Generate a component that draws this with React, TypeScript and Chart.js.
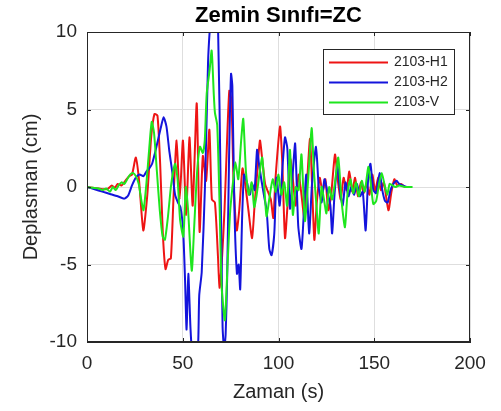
import { useEffect, useRef } from "react";
import { Chart, registerables } from "chart.js";

Chart.register(...registerables);

const titleText = "Zemin Sınıfı=ZC";
const xLabel = "Zaman (s)";
const yLabel = "Deplasman (cm)";
const xTicks = [0, 50, 100, 150, 200];
const yTicks = [-10, -5, 0, 5, 10];
const seriesNames = ["2103-H1", "2103-H2", "2103-V"];
const seriesColors = ["#ee1414", "#1414dc", "#1ee61e"];

// 2103-H1 (red)
const tH1 = [0, 3, 6, 9, 11, 13, 14.5, 16, 18, 20, 22, 23.5, 25.5, 27.2, 29.4, 31.5, 33.5, 35.2, 36.8, 38.2, 39.6, 41, 42.4, 43.8, 45.2, 46.8, 48.4, 50.1, 51.8, 53.5, 55.2, 57.3, 58.8, 60.5, 62.2, 63.9, 65.2, 66.8, 68.4, 69.2, 70.4, 71.8, 73, 74.3, 75.4, 76.6, 78.2, 79.5, 81.2, 82.8, 84.3, 86.2, 87.6, 88.8, 90.3, 91.5, 93, 94.5, 96, 97.3, 98.4, 100.8, 102, 103.4, 104.8, 106.2, 107.5, 109, 110.5, 112, 113.5, 115, 116.5, 118.7, 120, 121.5, 123, 124.5, 126, 127.5, 129.5, 131, 132.5, 134, 135.5, 137, 138.5, 140, 141.5, 143, 144.5, 146, 147.5, 149, 150.5, 152, 153.5, 155, 157.4, 159, 160.5, 162, 164, 166, 168];
const dH1 = [0, -0.05, -0.1, -0.15, -0.1, 0.1, -0.05, 0.2, 0.1, 0.4, 0.7, 0.8, 1.9, 0.4, -2.8, -0.5, 3.2, 4.7, 4.6, 1.5, -3.0, -5.3, -4.7, -4.6, -0.6, 3.0, -0.8, 3.0, -1.8, 3.2, -1.2, 5.4, -2.9, 2.0, 0.4, 3.7, -0.8, -1.0, -4.5, -6.5, -4.8, -1.5, 2.5, 6.2, 5.6, 0.2, -2.8, -1.5, 1.2, 0.0, -1.5, -3.3, -1.0, 0.8, 3.0, 1.8, 0.2, -0.3, -0.8, -2.0, 0.5, 3.9, 1.5, -3.3, -1.0, 1.8, 0.5, -1.2, 0.8, -0.5, -2.0, 0.5, 3.1, -3.4, -1.0, 0.6, -0.3, 0.5, -1.5, -0.5, 2.1, 0.4, -0.8, 0.6, -0.2, 1.0, -0.3, 0.6, -0.6, 0.3, -0.4, 0.2, -0.5, 0.8, -0.3, 0.6, -0.2, 0.3, -1.5, -0.3, 0.5, 0.1, 0.2, 0, 0];

// 2103-H2 (blue)
const tH2 = [0, 4, 8, 12, 16, 19.5, 21.5, 23.5, 25.5, 27.5, 29.5, 31, 32.5, 34, 35.5, 37, 38.5, 40, 41.5, 43, 44.5, 46, 47.5, 48.8, 50.2, 51.2, 52, 52.9, 54, 54.8, 56.5, 58, 58.6, 59.9, 61.6, 63.2, 64.2, 65.5, 67, 68.4, 69.8, 70.8, 71.6, 72.4, 73.2, 74.2, 75.2, 75.9, 77, 78.3, 79.2, 80, 81, 82, 83.5, 85, 86.2, 87.5, 88.8, 89.8, 91, 92.5, 93.8, 95.2, 96.4, 97.8, 99, 100.6, 102.2, 103.4, 104.6, 106, 107.4, 108.7, 110.3, 112, 113.3, 114.5, 116, 117.5, 119.6, 121, 122.5, 124, 125.5, 127.1, 128, 129.3, 130.7, 132.2, 133.5, 135, 136.5, 138, 139.5, 141, 142.5, 144, 145.5, 146.8, 148, 149.5, 151, 152.8, 154.2, 155.6, 157, 158.5, 160, 161.7, 163, 165, 167, 169];
const dH2 = [0, -0.15, -0.3, -0.45, -0.6, -0.75, -0.55, 0.1, 0.6, 0.8, 0.7, 1.0, 1.2, 1.5, 2.2, 3.0, 3.8, 4.5, 3.9, 2.3, 1.0, -0.5, -1.0, -1.3, -2.8, -6, -9.2, -5.6, -9, -10.5, -11, -10.2, -7, -5.5, 0, 8, 10.3, 12, 12, 10.5, 0, -9, -10.5, -9.5, -5.8, 2, 7.3, 6.5, -1.5, -5.6, -5, -6.6, -2, 0.8, 0.3, -0.5, 0.2, -0.2, 2.4, 1.5, 0.5, -0.6, -1.5, -4.0, -4.4, -3.0, 0.6, -1.2, 1.5, 3.2, 2.5, -1.4, 0.8, 2.8, -2.5, -4.0, -1.5, 0.8, -3.0, 0.2, 2.6, 0.0, -1.0, 0.5, -0.3, -1.2, -3.0, -0.4, 1.4, -0.3, -1.2, 0.3, -0.6, 0.0, -0.5, 0.2, -0.6, -0.3, -2.8, 0.5, 1.5, -0.2, -0.4, 0.9, -0.2, -0.9, -1.0, -0.2, 0.2, 0.4, 0.2, 0.1, 0, 0];

// 2103-V (green)
const tV = [0, 3, 6, 8, 10, 12, 13.5, 15, 16.5, 18, 19.5, 21, 22.5, 24, 25.5, 27, 28.3, 29.5, 31, 32.5, 33.8, 35, 36.5, 38, 39.5, 40.7, 42.2, 44, 46, 47.3, 48.6, 50.3, 51.6, 52.8, 54.7, 56, 57.5, 59, 60.5, 61.5, 62.5, 64, 65.1, 66.2, 66.8, 68, 69.2, 70.3, 72, 73.4, 74.8, 76.4, 77.5, 79, 80.5, 81.6, 83, 84.5, 86, 87.3, 88.6, 90, 91.5, 93, 93.8, 95.5, 97, 98.5, 100, 101.5, 103, 104.5, 106, 107.5, 109, 110.5, 112, 113.8, 115.5, 117.3, 118.5, 120, 121, 122.5, 124, 125, 126.5, 128, 129.5, 131.2, 133, 134.7, 136, 137.5, 139, 140.5, 142, 143.5, 145, 146.9, 148.2, 149.5, 151, 152.5, 153.9, 155.3, 156.8, 158, 159.5, 161, 163, 166, 170];
const dV = [0, -0.05, -0.1, -0.2, -0.1, -0.3, 0.0, -0.2, 0.1, 0.3, 0.2, 0.5, 0.8, 0.9, 0.7, 0.2, -0.8, -1.5, 0.2, 2.5, 4.2, 3.5, 1.0, -1.5, -3.2, -3.4, -2.0, 0.2, 1.5, 0.5, -2.1, -3.2, 0.0, -1.5, -5.4, -2.5, 1.0, 2.6, 2.2, 3.0, 6.0, 7.5, 8.8, 6, 4.8, 4.0, -1.0, -6.4, -8.6, -5.0, -1.5, 0.5, 1.6, 0.5, 3.0, 4.4, 1.0, -0.5, 0.3, -1.3, -0.5, 0.8, 1.9, -0.8, -1.9, -0.5, 0.5, -0.3, 0.8, -0.5, 0.3, -1.2, 2.4, -1.8, 0.0, -0.2, 2.1, -2.2, 0.5, 3.8, 1.0, -1.5, -3.0, 0.0, -1.0, -1.7, 0.0, -0.8, 0.3, 1.9, -1.0, -2.6, -0.5, 0.5, -0.4, 0.3, -0.6, 0.4, -0.3, 1.3, 0.2, -1.1, -0.9, 0.2, 0.9, 0.2, -0.5, 0.2, 0.1, 0.0, 0.1, 0, 0];

const FONT = "'Liberation Sans', Arial, Helvetica, sans-serif";
const AXIS_COLOR = "#262626";

const toPoints = (t: number[], v: number[]) => t.map((x, i) => ({ x, y: v[i] }));

const framePlugin = {
  id: "frame",
  afterDatasetsDraw(chart: any) {
    const { ctx, chartArea } = chart;
    const { left, right, top, bottom } = chartArea;
    const xs = chart.scales.x;
    const ys = chart.scales.y;
    ctx.save();
    ctx.strokeStyle = AXIS_COLOR;
    ctx.lineWidth = 1;
    ctx.strokeRect(left + 0.5, top + 0.5, right - left - 1, bottom - top - 1);
    const len = 4;
    ctx.beginPath();
    xTicks.forEach((v) => {
      const px = Math.round(xs.getPixelForValue(v)) + 0.5;
      ctx.moveTo(px, bottom);
      ctx.lineTo(px, bottom - len);
      ctx.moveTo(px, top);
      ctx.lineTo(px, top + len);
    });
    yTicks.forEach((v) => {
      const py = Math.round(ys.getPixelForValue(v)) + 0.5;
      ctx.moveTo(left, py);
      ctx.lineTo(left + len, py);
      ctx.moveTo(right, py);
      ctx.lineTo(right - len, py);
    });
    ctx.stroke();
    ctx.restore();
  },
  afterDraw(chart: any) {
    const { ctx, chartArea } = chart;
    ctx.save();
    // title, centred over the plot area
    ctx.fillStyle = "#000000";
    ctx.font = `bold 22px ${FONT}`;
    ctx.textAlign = "center";
    ctx.textBaseline = "middle";
    ctx.fillText(titleText, (chartArea.left + chartArea.right) / 2, 16);
    // legend
    const bx = 323.5, by = 49.5, bw = 131, bh = 65;
    ctx.fillStyle = "#ffffff";
    ctx.fillRect(bx, by, bw, bh);
    ctx.strokeStyle = AXIS_COLOR;
    ctx.lineWidth = 1;
    ctx.strokeRect(bx, by, bw, bh);
    ctx.font = `14px ${FONT}`;
    ctx.textBaseline = "middle";
    ctx.textAlign = "left";
    seriesNames.forEach((name, i) => {
      const y = 62.5 + i * 20;
      ctx.strokeStyle = seriesColors[i];
      ctx.lineWidth = 2;
      ctx.beginPath();
      ctx.moveTo(329, y);
      ctx.lineTo(388, y);
      ctx.stroke();
      ctx.fillStyle = AXIS_COLOR;
      ctx.fillText(name, 394, y);
    });
    ctx.restore();
  },
};

export default function App() {
  const ref = useRef<HTMLCanvasElement | null>(null);
  useEffect(() => {
    if (!ref.current) return;
    const data = [
      { t: tH1, v: dH1 },
      { t: tH2, v: dH2 },
      { t: tV, v: dV },
    ];
    const drawOrder = [2, 1, 0];
    const chart = new Chart(ref.current, {
      type: "line",
      data: {
        datasets: data.map((s, i) => ({
          label: seriesNames[i],
          data: toPoints(s.t, s.v),
          borderColor: seriesColors[i],
          backgroundColor: seriesColors[i],
          borderWidth: 2,
          pointRadius: 0,
          tension: 0.2,
          fill: false,
          clip: 0,
          order: drawOrder[i],
        })),
      },
      options: {
        animation: false,
        responsive: false,
        devicePixelRatio: 1,
        layout: { padding: { left: 0, right: 31, top: 32, bottom: 0 } },
        plugins: {
          legend: { display: false },
          tooltip: { enabled: false },
          title: { display: false },
        },
        scales: {
          x: {
            type: "linear",
            min: 0,
            max: 200,
            afterFit: (s: any) => {
              s.height = 69;
            },
            afterBuildTicks: (s: any) => {
              s.ticks = xTicks.map((value) => ({ value }));
            },
            ticks: {
              color: AXIS_COLOR,
              font: { family: FONT, size: 19 },
              padding: 10,
              maxRotation: 0,
              autoSkip: false,
            },
            grid: { color: "#dedede", drawTicks: false, lineWidth: 1 },
            border: { display: true, color: AXIS_COLOR },
            title: {
              display: true,
              text: xLabel,
              color: AXIS_COLOR,
              font: { family: FONT, size: 20 },
              padding: { top: 0, bottom: 7 },
            },
          },
          y: {
            type: "linear",
            min: -10,
            max: 10,
            afterFit: (s: any) => {
              s.width = 87;
            },
            afterBuildTicks: (s: any) => {
              s.ticks = yTicks.map((value) => ({ value }));
            },
            ticks: {
              color: AXIS_COLOR,
              font: { family: FONT, size: 19 },
              padding: 10,
              autoSkip: false,
            },
            grid: { color: "#dedede", drawTicks: false, lineWidth: 1 },
            border: { display: true, color: AXIS_COLOR },
            title: {
              display: true,
              text: yLabel,
              color: AXIS_COLOR,
              font: { family: FONT, size: 20 },
              padding: { top: 19, bottom: 0 },
            },
          },
        },
      },
      plugins: [framePlugin],
    } as any);
    return () => chart.destroy();
  }, []);
  return (
    <div style={{ position: "absolute", left: 0, top: 0, width: 501, height: 411, background: "#ffffff" }}>
      <canvas ref={ref} width={501} height={411} style={{ display: "block" }} />
    </div>
  );
}
